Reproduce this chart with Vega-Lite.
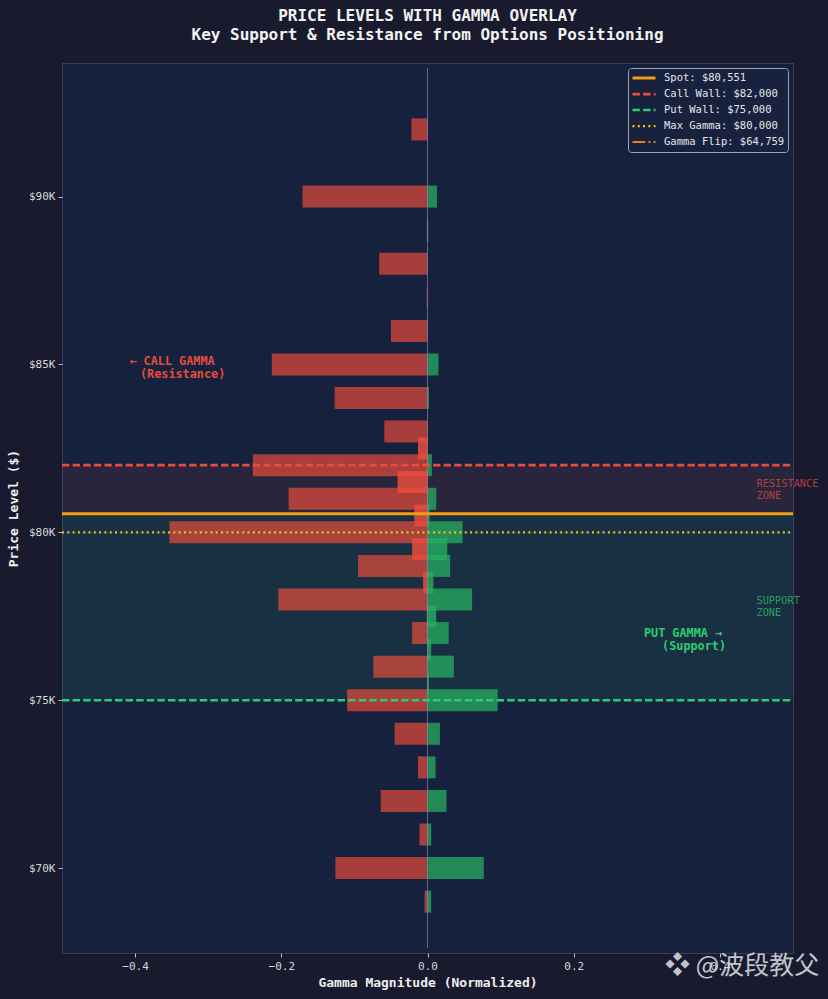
{
  "$schema": "https://vega.github.io/schema/vega-lite/v6.json",
  "description": "Price levels with gamma overlay: call and put gamma by strike, with spot, walls and zones",
  "width": 731,
  "height": 890,
  "autosize": {"type": "none"},
  "padding": {"left": 62, "top": 63, "right": 35, "bottom": 46},
  "background": "#1a1a2e",
  "title": {
    "text": ["PRICE LEVELS WITH GAMMA OVERLAY", "Key Support & Resistance from Options Positioning"],
    "font": "DejaVu Sans Mono",
    "fontSize": 16,
    "fontWeight": "bold",
    "color": "#f2f2f2",
    "anchor": "middle",
    "frame": "group",
    "lineHeight": 19,
    "offset": 20
  },
  "datasets": {
    "bars": [
      {"price": 92000, "gamma": -0.022, "side": "call", "kind": "full"},
      {"price": 90000, "gamma": -0.171, "side": "call", "kind": "full"},
      {"price": 89000, "gamma": -0.001, "side": "call", "kind": "full"},
      {"price": 88000, "gamma": -0.066, "side": "call", "kind": "full"},
      {"price": 87000, "gamma": -0.001, "side": "call", "kind": "full"},
      {"price": 86000, "gamma": -0.050, "side": "call", "kind": "full"},
      {"price": 85000, "gamma": -0.213, "side": "call", "kind": "full"},
      {"price": 84000, "gamma": -0.127, "side": "call", "kind": "full"},
      {"price": 83000, "gamma": -0.059, "side": "call", "kind": "full"},
      {"price": 82000, "gamma": -0.239, "side": "call", "kind": "full"},
      {"price": 81000, "gamma": -0.190, "side": "call", "kind": "full"},
      {"price": 80000, "gamma": -0.353, "side": "call", "kind": "full"},
      {"price": 79000, "gamma": -0.095, "side": "call", "kind": "full"},
      {"price": 78000, "gamma": -0.204, "side": "call", "kind": "full"},
      {"price": 77000, "gamma": -0.021, "side": "call", "kind": "full"},
      {"price": 76000, "gamma": -0.074, "side": "call", "kind": "full"},
      {"price": 75000, "gamma": -0.110, "side": "call", "kind": "full"},
      {"price": 74000, "gamma": -0.045, "side": "call", "kind": "full"},
      {"price": 73000, "gamma": -0.013, "side": "call", "kind": "full"},
      {"price": 72000, "gamma": -0.064, "side": "call", "kind": "full"},
      {"price": 71000, "gamma": -0.011, "side": "call", "kind": "full"},
      {"price": 70000, "gamma": -0.126, "side": "call", "kind": "full"},
      {"price": 69000, "gamma": -0.004, "side": "call", "kind": "full"},
      {"price": 90000, "gamma": 0.013, "side": "put", "kind": "full"},
      {"price": 89000, "gamma": 0.001, "side": "put", "kind": "full"},
      {"price": 85000, "gamma": 0.015, "side": "put", "kind": "full"},
      {"price": 84000, "gamma": 0.002, "side": "put", "kind": "full"},
      {"price": 82000, "gamma": 0.006, "side": "put", "kind": "full"},
      {"price": 81000, "gamma": 0.012, "side": "put", "kind": "full"},
      {"price": 80000, "gamma": 0.048, "side": "put", "kind": "full"},
      {"price": 79000, "gamma": 0.031, "side": "put", "kind": "full"},
      {"price": 78000, "gamma": 0.061, "side": "put", "kind": "full"},
      {"price": 77000, "gamma": 0.029, "side": "put", "kind": "full"},
      {"price": 76000, "gamma": 0.036, "side": "put", "kind": "full"},
      {"price": 75000, "gamma": 0.096, "side": "put", "kind": "full"},
      {"price": 74000, "gamma": 0.017, "side": "put", "kind": "full"},
      {"price": 73000, "gamma": 0.011, "side": "put", "kind": "full"},
      {"price": 72000, "gamma": 0.026, "side": "put", "kind": "full"},
      {"price": 71000, "gamma": 0.005, "side": "put", "kind": "full"},
      {"price": 70000, "gamma": 0.077, "side": "put", "kind": "full"},
      {"price": 69000, "gamma": 0.005, "side": "put", "kind": "full"},
      {"price": 82500, "gamma": -0.013, "side": "call", "kind": "half"},
      {"price": 81500, "gamma": -0.041, "side": "call", "kind": "half"},
      {"price": 80500, "gamma": -0.018, "side": "call", "kind": "half"},
      {"price": 79500, "gamma": -0.021, "side": "call", "kind": "half"},
      {"price": 78500, "gamma": -0.006, "side": "call", "kind": "half"},
      {"price": 77500, "gamma": -0.001, "side": "call", "kind": "half"},
      {"price": 80500, "gamma": 0.003, "side": "put", "kind": "half"},
      {"price": 79500, "gamma": 0.027, "side": "put", "kind": "half"},
      {"price": 78500, "gamma": 0.008, "side": "put", "kind": "half"},
      {"price": 77500, "gamma": 0.012, "side": "put", "kind": "half"},
      {"price": 76500, "gamma": 0.005, "side": "put", "kind": "half"},
      {"price": 75500, "gamma": 0.002, "side": "put", "kind": "half"}
    ],
    "levels": [
      {"label": "Spot: $80,551", "price": 80551},
      {"label": "Call Wall: $82,000", "price": 82000},
      {"label": "Put Wall: $75,000", "price": 75000},
      {"label": "Max Gamma: $80,000", "price": 80000},
      {"label": "Gamma Flip: $64,759", "price": 64759}
    ]
  },
  "encoding": {
    "y": {
      "field": "price",
      "type": "quantitative",
      "scale": {"domain": [67620, 93830], "nice": false, "zero": false},
      "axis": {
        "title": "Price Level ($)",
        "values": [70000, 75000, 80000, 85000, 90000],
        "labelExpr": "'$' + format(datum.value / 1000, 'd') + 'K'",
        "grid": true,
        "gridColor": "#3a4a70",
        "gridOpacity": 0.25,
        "gridDash": [2, 2],
        "titlePadding": 8
      }
    }
  },
  "layer": [
    {
      "data": {"values": [
        {"zone": "resistance", "price": 80551, "price_hi": 82000},
        {"zone": "support", "price": 75000, "price_hi": 80551}
      ]},
      "mark": {"type": "rect", "fillOpacity": 0.09},
      "encoding": {
        "x": {"datum": -0.5, "type": "quantitative"},
        "x2": {"datum": 0.5},
        "y2": {"field": "price_hi"},
        "fill": {
          "field": "zone",
          "type": "nominal",
          "scale": {"domain": ["resistance", "support"], "range": ["#e74c3c", "#2ecc71"]},
          "legend": null
        }
      }
    },
    {
      "data": {"name": "bars"},
      "transform": [{"filter": "datum.side == 'call' && datum.kind == 'full'"}],
      "mark": {"type": "bar", "orient": "horizontal", "size": 22, "color": "#e74c3c", "opacity": 0.7},
      "encoding": {
        "x": {
          "field": "gamma",
          "type": "quantitative",
          "stack": null,
          "scale": {"domain": [-0.5, 0.5], "nice": false},
          "axis": {
            "title": "Gamma Magnitude (Normalized)",
            "values": [-0.4, -0.2, 0, 0.2, 0.4],
            "format": ".1f",
            "grid": false,
            "titlePadding": 5
          }
        }
      }
    },
    {
      "data": {"name": "bars"},
      "transform": [{"filter": "datum.side == 'put' && datum.kind == 'full'"}],
      "mark": {"type": "bar", "orient": "horizontal", "size": 22, "color": "#27ae60", "opacity": 0.75},
      "encoding": {"x": {"field": "gamma", "type": "quantitative", "stack": null}}
    },
    {
      "data": {"name": "bars"},
      "transform": [{"filter": "datum.side == 'call' && datum.kind == 'half'"}],
      "mark": {"type": "bar", "orient": "horizontal", "size": 22, "color": "#e74c3c", "opacity": 0.85},
      "encoding": {"x": {"field": "gamma", "type": "quantitative", "stack": null}}
    },
    {
      "data": {"name": "bars"},
      "transform": [{"filter": "datum.side == 'put' && datum.kind == 'half'"}],
      "mark": {"type": "bar", "orient": "horizontal", "size": 22, "color": "#27ae60", "opacity": 0.8},
      "encoding": {"x": {"field": "gamma", "type": "quantitative", "stack": null}}
    },
    {
      "data": {"values": [{"price": 67620, "price_hi": 93830}]},
      "mark": {"type": "rule", "color": "#8a9ab8", "opacity": 0.6, "strokeWidth": 1},
      "encoding": {
        "x": {"datum": 0, "type": "quantitative"},
        "y2": {"field": "price_hi"}
      }
    },
    {
      "data": {"name": "levels"},
      "mark": {"type": "rule", "clip": true},
      "encoding": {
        "x": {"datum": -0.5, "type": "quantitative"},
        "x2": {"datum": 0.5},
        "color": {
          "field": "label",
          "type": "nominal",
          "title": null,
          "scale": {
            "domain": ["Spot: $80,551", "Call Wall: $82,000", "Put Wall: $75,000", "Max Gamma: $80,000", "Gamma Flip: $64,759"],
            "range": ["#f39c12", "#e74c3c", "#2ecc71", "#f1c40f", "#e67e22"]
          },
          "legend": {"symbolSize": 529, "padding": 3, "clipHeight": 14, "rowPadding": 2}
        },
        "strokeDash": {
          "field": "label",
          "type": "nominal",
          "title": null,
          "scale": {
            "domain": ["Spot: $80,551", "Call Wall: $82,000", "Put Wall: $75,000", "Max Gamma: $80,000", "Gamma Flip: $64,759"],
            "range": [[1, 0], [7.4, 3.2], [7.4, 3.2], [2, 3.3], [12.8, 3.2, 2, 3.2]]
          }
        },
        "strokeWidth": {
          "field": "label",
          "type": "nominal",
          "title": null,
          "scale": {
            "domain": ["Spot: $80,551", "Call Wall: $82,000", "Put Wall: $75,000", "Max Gamma: $80,000", "Gamma Flip: $64,759"],
            "range": [3, 2, 2, 2, 2]
          }
        }
      }
    },
    {
      "data": {"values": [
        {"gamma": -0.3495, "price": 85090, "text": "← CALL GAMMA"},
        {"gamma": -0.335, "price": 84705, "text": "(Resistance)"}
      ]},
      "mark": {"type": "text", "align": "center", "baseline": "middle", "font": "DejaVu Sans Mono", "fontSize": 11.8, "fontWeight": "bold", "color": "#e74c3c"},
      "encoding": {
        "x": {"field": "gamma", "type": "quantitative"},
        "text": {"field": "text", "type": "nominal"}
      }
    },
    {
      "data": {"values": [
        {"gamma": 0.3495, "price": 77010, "text": "PUT GAMMA →"},
        {"gamma": 0.3646, "price": 76620, "text": "(Support)"}
      ]},
      "mark": {"type": "text", "align": "center", "baseline": "middle", "font": "DejaVu Sans Mono", "fontSize": 11.8, "fontWeight": "bold", "color": "#2ecc71"},
      "encoding": {
        "x": {"field": "gamma", "type": "quantitative"},
        "text": {"field": "text", "type": "nominal"}
      }
    },
    {
      "data": {"values": [
        {"gamma": 0.45, "price": 81450, "text": "RESISTANCE"},
        {"gamma": 0.45, "price": 81090, "text": "ZONE"}
      ]},
      "mark": {"type": "text", "align": "left", "baseline": "middle", "font": "DejaVu Sans Mono", "fontSize": 10.3, "color": "#e74c3c", "opacity": 0.7},
      "encoding": {
        "x": {"field": "gamma", "type": "quantitative"},
        "text": {"field": "text", "type": "nominal"}
      }
    },
    {
      "data": {"values": [
        {"gamma": 0.45, "price": 77945, "text": "SUPPORT"},
        {"gamma": 0.45, "price": 77585, "text": "ZONE"}
      ]},
      "mark": {"type": "text", "align": "left", "baseline": "middle", "font": "DejaVu Sans Mono", "fontSize": 10.3, "color": "#2ecc71", "opacity": 0.7},
      "encoding": {
        "x": {"field": "gamma", "type": "quantitative"},
        "text": {"field": "text", "type": "nominal"}
      }
    },
    {
      "data": {"values": [{"gamma": 0.325, "price": 67084, "text": "❖ @波段教父"}]},
      "mark": {"type": "text", "align": "left", "baseline": "middle", "font": "Noto Sans CJK SC, DejaVu Sans", "fontSize": 25, "color": "#dde1e8", "opacity": 0.85},
      "encoding": {
        "x": {"field": "gamma", "type": "quantitative"},
        "text": {"field": "text", "type": "nominal"}
      }
    }
  ],
  "config": {
    "view": {"fill": "#16213e", "stroke": "#34405e", "strokeWidth": 1},
    "axis": {
      "domain": false,
      "labelFont": "DejaVu Sans Mono",
      "labelFontSize": 11,
      "labelColor": "#d8d8d8",
      "labelPadding": 3,
      "tickColor": "#c0c0c0",
      "tickSize": 4,
      "titleFont": "DejaVu Sans Mono",
      "titleFontSize": 13,
      "titleFontWeight": "bold",
      "titleColor": "#eeeeee"
    },
    "legend": {
      "orient": "top-right",
      "offset": 5,
      "fillColor": "#18223f",
      "strokeColor": "#9da3b4",
      "cornerRadius": 3,
      "symbolType": "stroke",
      "labelFont": "DejaVu Sans Mono",
      "labelFontSize": 10.5,
      "labelColor": "#e6e6e6",
      "labelOffset": 7
    }
  }
}
